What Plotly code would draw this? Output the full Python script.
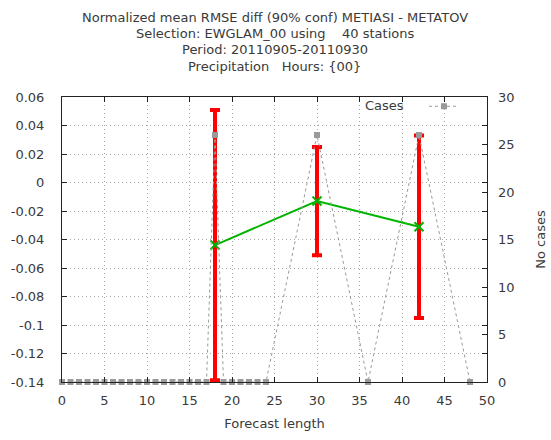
import plotly.graph_objects as go

# Forecast lengths (hours) and normalized RMSE difference with 90% half-widths
lead_hours = [18, 30, 42]
rmse_diff = [-0.0439, -0.0130, -0.0310]
conf_half = [0.0948, 0.0380, 0.0640]

# Number of cases for each forecast length
case_hours = list(range(0, 25)) + [30, 36, 42, 48]
case_counts = [0] * 18 + [26] + [0] * 6 + [26, 0, 26, 0]

x_ticks = list(range(0, 51, 5))
y_ticks = [0.06, 0.04, 0.02, 0, -0.02, -0.04, -0.06, -0.08, -0.1, -0.12, -0.14]
y_tick_text = ["0.06", "0.04", "0.02", "0", "-0.02", "-0.04", "-0.06", "-0.08", "-0.1", "-0.12", "-0.14"]
y2_ticks = [0, 5, 10, 15, 20, 25, 30]

title_lines = [
    "Normalized mean RMSE diff (90% conf) METIASI - METATOV",
    "Selection: EWGLAM_00 using    40 stations",
    "Period: 20110905-20110930",
    "Precipitation   Hours: {00}",
]

FONT = "DejaVu Sans"
TXT = "#3a3a3a"
GRID = "#a8a8a8"
CASE_COL = "#9a9a9a"
PLOT_W = 425  # plot area width in px (left 62, right 487)
PLOT_H = 285  # plot area height in px (top 97, bottom 382)

fig = go.Figure()

# red 90% confidence bars
fig.add_trace(go.Scatter(
    x=lead_hours, y=rmse_diff, mode="markers",
    marker=dict(size=1, color="rgba(0,0,0,0)"),
    error_y=dict(type="data", array=conf_half, visible=True,
                 color="#ff0000", thickness=4, width=5),
    showlegend=False, hoverinfo="skip",
))

# green mean difference line
fig.add_trace(go.Scatter(
    x=lead_hours, y=rmse_diff, mode="lines+markers",
    line=dict(color="#00b400", width=2),
    marker=dict(symbol="x-thin", size=9, color="#00b400",
                line=dict(width=2, color="#00b400")),
    showlegend=False,
))

# case counts on the secondary axis
fig.add_trace(go.Scatter(
    x=case_hours, y=case_counts, mode="lines+markers", name=" ",
    yaxis="y2",
    line=dict(color=CASE_COL, width=1, dash="3px,3px"),
    marker=dict(symbol="square", size=6, color=CASE_COL),
    cliponaxis=False,
))

# multi-line title, one annotation per line
annotations = []
for i, line in enumerate(title_lines):
    ypix = 17 + i * 16.4
    annotations.append(dict(
        text=line, xref="paper", yref="paper", x=0.5,
        y=(382 - ypix) / PLOT_H, xanchor="center", yanchor="middle",
        showarrow=False, font=dict(family=FONT, size=13, color=TXT),
    ))
# legend label sits to the left of its sample, gnuplot style
annotations.append(dict(
    text="Cases", xref="paper", yref="paper",
    x=(406 - 62) / PLOT_W, y=(382 - 105) / PLOT_H,
    xanchor="right", yanchor="middle", showarrow=False,
    font=dict(family=FONT, size=13, color=TXT),
))

fig.update_layout(
    width=551, height=440,
    margin=dict(l=62, r=64, t=97, b=58, autoexpand=False),
    paper_bgcolor="white", plot_bgcolor="white",
    font=dict(family=FONT, size=13, color=TXT),
    annotations=annotations,
    xaxis=dict(
        range=[0, 50], tickvals=x_ticks, ticks="inside", ticklen=5,
        mirror="ticks", showline=True, linecolor="#222", linewidth=1,
        showgrid=True, gridcolor=GRID, griddash="1px,3px", gridwidth=1,
        zeroline=False, tickcolor="#222", automargin=False,
        title=dict(text="Forecast length", standoff=12,
                   font=dict(family=FONT, size=13, color=TXT)),
        ticklabelstandoff=6,
    ),
    yaxis=dict(
        range=[-0.14, 0.06], tickvals=y_ticks, ticktext=y_tick_text,
        ticks="inside", ticklen=5, mirror="ticks", showline=True,
        linecolor="#222", linewidth=1, tickcolor="#222", automargin=False,
        showgrid=True, gridcolor=GRID, griddash="1px,3px", gridwidth=1,
        zeroline=False, ticklabelstandoff=14,
    ),
    yaxis2=dict(
        range=[0, 30], tickvals=y2_ticks, overlaying="y", side="right",
        ticks="inside", ticklen=5, tickcolor="#222", showgrid=False,
        zeroline=False, showline=False, ticklabelstandoff=10,
        automargin=False,
        title=dict(text="No cases", standoff=22,
                   font=dict(family=FONT, size=13, color=TXT)),
    ),
    showlegend=True,
    legend=dict(
        x=(424 - 62) / PLOT_W, y=1.02, xanchor="left", yanchor="top",
        bgcolor="rgba(0,0,0,0)", font=dict(size=13, color=TXT),
    ),
)

fig.write_html("out.html")
